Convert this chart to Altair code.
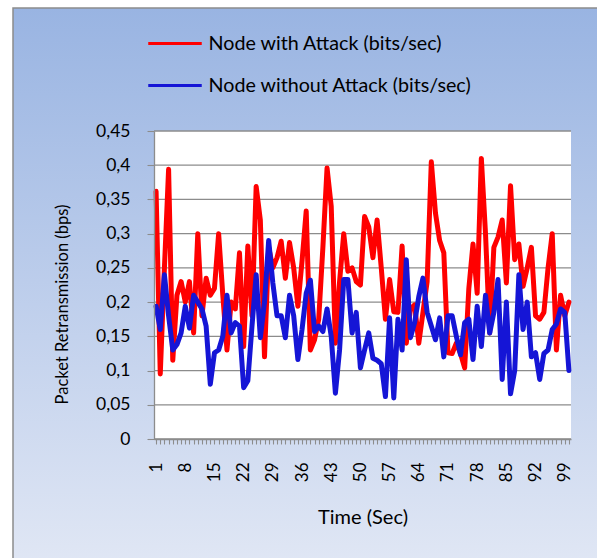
import altair as alt
import pandas as pd

# ---------------- data ----------------
time_sec = list(range(1, 101))

with_attack = [
    0.362, 0.095, 0.25, 0.394, 0.115, 0.21, 0.23, 0.20, 0.23, 0.155,
    0.30, 0.18, 0.235, 0.21, 0.22, 0.30, 0.21, 0.13, 0.20, 0.19,
    0.272, 0.135, 0.282, 0.18, 0.369, 0.32, 0.12, 0.28, 0.25, 0.265,
    0.289, 0.235, 0.287, 0.25, 0.194, 0.26, 0.333, 0.13, 0.145, 0.175,
    0.28, 0.396, 0.34, 0.14, 0.23, 0.30, 0.245, 0.25, 0.23, 0.225,
    0.325, 0.31, 0.265, 0.32, 0.25, 0.175, 0.233, 0.186, 0.185, 0.282,
    0.14, 0.19, 0.196, 0.14, 0.185, 0.23, 0.405, 0.33, 0.29, 0.272,
    0.126, 0.125, 0.14, 0.125, 0.104, 0.22, 0.285, 0.213, 0.41, 0.30,
    0.155, 0.28, 0.295, 0.32, 0.228, 0.37, 0.262, 0.285, 0.223, 0.25,
    0.28, 0.18, 0.175, 0.185, 0.25, 0.30, 0.13, 0.21, 0.18, 0.20,
]

without_attack = [
    0.194, 0.16, 0.24, 0.18, 0.13, 0.138, 0.155, 0.194, 0.162, 0.21,
    0.20, 0.19, 0.165, 0.08, 0.126, 0.13, 0.15, 0.21, 0.155, 0.17,
    0.165, 0.075, 0.085, 0.165, 0.24, 0.148, 0.20, 0.29, 0.228, 0.18,
    0.18, 0.148, 0.21, 0.18, 0.116, 0.16, 0.213, 0.232, 0.157, 0.165,
    0.157, 0.19, 0.15, 0.067, 0.13, 0.233, 0.233, 0.155, 0.185, 0.104,
    0.13, 0.155, 0.118, 0.115, 0.11, 0.062, 0.177, 0.06, 0.175, 0.13,
    0.262, 0.148, 0.17, 0.208, 0.235, 0.185, 0.165, 0.145, 0.177, 0.12,
    0.18, 0.18, 0.15, 0.123, 0.17, 0.175, 0.116, 0.194, 0.135, 0.21,
    0.155, 0.185, 0.233, 0.087, 0.20, 0.066, 0.10, 0.24, 0.16, 0.20,
    0.12, 0.126, 0.087, 0.125, 0.13, 0.16, 0.168, 0.19, 0.185, 0.10,
]

series_names = ["Node with Attack (bits/sec)", "Node without Attack (bits/sec)"]
series_colors = ["#ff0000", "#1515d6"]
y_ticks = [0, 0.05, 0.1, 0.15, 0.2, 0.25, 0.3, 0.35, 0.4, 0.45]
label_every = 7

df = pd.DataFrame({
    "t": time_sec + time_sec,
    "value": with_attack + without_attack,
    "series": [series_names[0]] * len(time_sec) + [series_names[1]] * len(time_sec),
})
grid_df = pd.DataFrame({"value": y_ticks})
one = pd.DataFrame({"a": [0]})

# ---------------- layout ----------------
W, H = 417, 308
PAD_L, PAD_T, PAD_R, PAD_B = 154, 131, 26, 119
FONT = "Lato"

yscale = alt.Scale(domain=[0, 0.45], nice=False, zero=True)

y_axis = alt.Axis(
    title="Packet Retransmission (bps)",
    values=y_ticks,
    labelExpr="replace(format(datum.value, '.2~f'), '.', ',')",
    labelFontSize=17.5,
    labelPadding=17,
    tickSize=7,
    grid=False,
    titleFontSize=16.5,
    titleAngle=-90,
    titleX=62 - PAD_L,
    titleY=304 - PAD_T,
    titleAlign="center",
    titleBaseline="middle",
    zindex=1,
)

bg = alt.Chart(one).mark_rect(
    fill=alt.Gradient(
        gradient="linear",
        stops=[alt.GradientStop(color="#99b4e2", offset=0),
               alt.GradientStop(color="#e2e8f5", offset=1)],
        x1=0, x2=0, y1=0, y2=1,
    ),
    stroke="#8c8c8c", strokeWidth=1.5,
).encode(
    x=alt.value(13 - PAD_L), x2=alt.value(W + PAD_R + 20),
    y=alt.value(8 - PAD_T), y2=alt.value(H + PAD_B + 20),
)

plot_bg = alt.Chart(one).mark_rect(fill="white").encode(
    x=alt.value(0), x2=alt.value(W), y=alt.value(0), y2=alt.value(H)
)

grid = alt.Chart(grid_df).mark_rule(color="#8c8c8c", strokeWidth=1.3).encode(
    y=alt.Y("value:Q", scale=yscale, axis=y_axis),
    x=alt.value(0), x2=alt.value(W),
)

lines = alt.Chart(df).mark_line(
    strokeWidth=5, strokeJoin="round", strokeCap="round"
).encode(
    x=alt.X(
        "t:O",
        scale=alt.Scale(type="point", padding=0.5),
        axis=alt.Axis(
            title="Time (Sec)",
            labelAngle=-90,
            labelAlign="right",
            labelBaseline="middle",
            labelExpr=f"(datum.value - 1) % {label_every} == 0 ? datum.label : ''",
            labelOverlap=False,
            labelPadding=18,
            labelFontSize=17,
            tickSize=5,
            grid=False,
            titleFontSize=20,
            titleX=W / 2,
            titleY=78,
            titleBaseline="middle",
            titleAlign="center",
            zindex=1,
        ),
    ),
    y=alt.Y("value:Q", scale=yscale, axis=y_axis),
    color=alt.Color(
        "series:N",
        scale=alt.Scale(domain=series_names, range=series_colors),
        legend=alt.Legend(
            title=None,
            orient="none",
            legendX=146.5 - PAD_L,
            legendY=15 - PAD_T,
            symbolType="stroke",
            symbolSize=2862,
            symbolStrokeWidth=3.2,
            labelFontSize=19.7,
            labelOffset=5,
            labelLimit=0,
            rowPadding=3,
            padding=0,
        ),
    ),
)

chart = alt.layer(bg, plot_bg, grid, lines).properties(
    width=W,
    height=H,
    autosize=alt.AutoSizeParams(type="none"),
    padding={"left": PAD_L, "top": PAD_T, "right": PAD_R, "bottom": PAD_B},
    background="white",
).configure_view(stroke=None).configure_axis(
    labelFont=FONT, titleFont=FONT, labelColor="black", titleColor="black",
    titleFontWeight="normal", domainColor="#8c8c8c", tickColor="#8c8c8c",
    domainWidth=1.3, tickWidth=1.1,
).configure_legend(
    labelFont=FONT, labelColor="black", zindex=1,
)

chart.save("out.html", embed_options={"renderer": "svg", "actions": False})
